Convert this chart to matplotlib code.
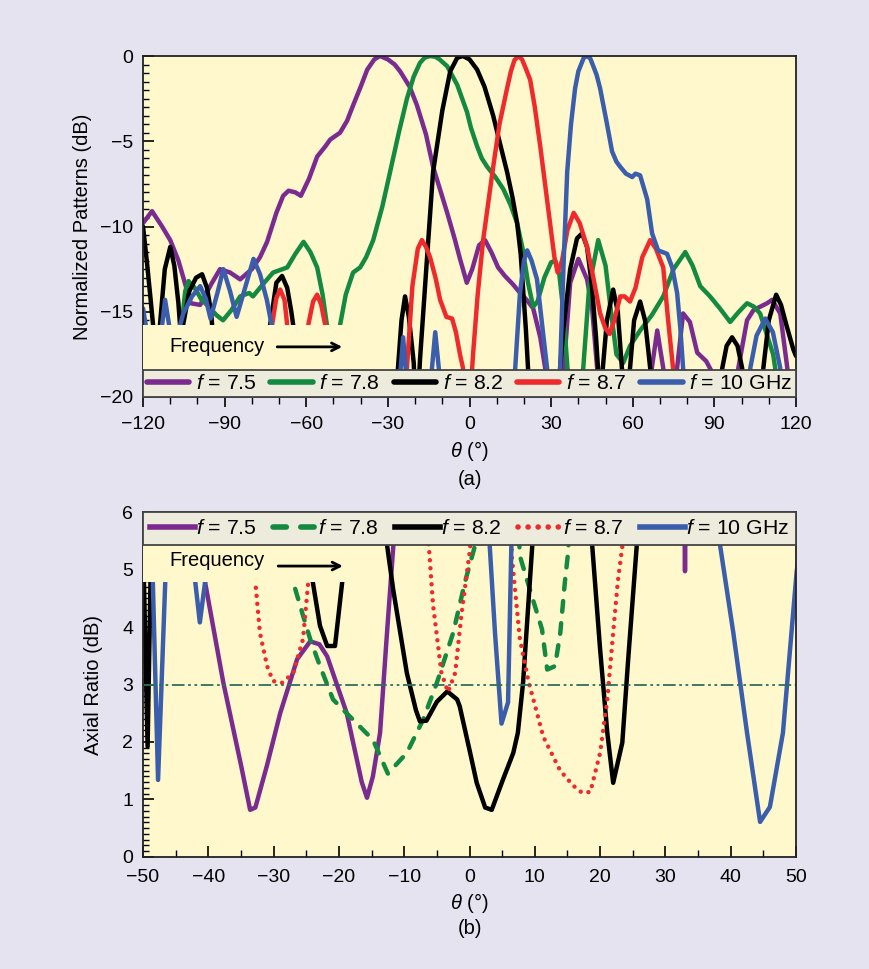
import matplotlib
matplotlib.use("Agg")
import matplotlib.pyplot as plt
from matplotlib.patches import Rectangle
from matplotlib.ticker import MultipleLocator

# ---------------- data: normalized patterns (dB) vs theta (deg) ----------------
pat75_theta = [-120, -116.7, -113, -110, -107, -105, -102.5, -99, -95, -91.7, -88, -84.3, -80, -77,
               -74.4, -71, -68.5, -66.5, -64, -62, -59, -56, -53, -51.2, -47.6, -45, -42.8, -40,
               -37.6, -35, -32.9, -30, -27.5, -25.5, -22, -19.3, -16, -13.4, -10.5, -8.2, -5.5,
               -3.5, -1, 1, 3.5, 5.7, 8, 10.5, 13, 16, 18.6, 21, 23.4, 26, 28.5, 31, 34, 35.5,
               37, 40, 43.2, 45, 46.9, 49, 65, 67, 69, 71.2, 73, 76.3, 78.5, 81, 83.7, 87, 89,
               91, 97, 98.8, 102, 104.4, 109.4, 111.2, 114.2, 116.8, 118.5, 120]
pat75_db = [-9.8, -9.1, -10.0, -10.8, -12.0, -13.1, -14.5, -14.6, -13.4, -12.5, -12.7, -13.1, -12.5,
            -11.8, -10.9, -9.2, -8.2, -7.9, -8.0, -8.2, -7.2, -5.9, -5.3, -4.9, -4.5, -3.8, -2.9,
            -1.8, -0.8, -0.2, 0.0, -0.2, -0.5, -0.9, -1.8, -2.9, -4.6, -6.5, -8.0, -9.2, -10.7,
            -11.9, -13.3, -12.5, -11.1, -10.8, -11.5, -12.4, -12.9, -13.4, -13.9, -14.3, -14.8,
            -16.5, -19.0, -22, -19.5, -16.5, -13.3, -11.9, -13.1, -14.7, -18.3, -22, -22, -18.3,
            -16.1, -18.3, -22, -18.3, -15.1, -15.6, -17.4, -17.9, -18.5, -22, -22, -18.3, -15.5,
            -14.9, -14.5, -14.3, -15.1, -18.3, -21, -22]

pat78_theta = [-109, -107, -105.7, -104.5, -103.3, -101, -98.5, -96.5, -93, -90.6, -87.5, -84.3, -81,
               -79.6, -76, -72.2, -67, -64, -61, -58.5, -56, -54, -52.4, -51, -49.5, -47.6, -45.5,
               -42.8, -40.2, -38, -35.4, -32, -29.2, -26, -23, -20.5, -18.2, -16.5, -14.5, -12.5,
               -11, -8.2, -4.5, -0.9, 0.5, 2.8, 4.5, 6.5, 9.5, 12.4, 15, 17.5, 19.5, 21.5, 23.4,
               25, 27.5, 30, 31.5, 33, 34.5, 36, 38.5, 41.8, 44, 47.3, 50, 52, 54, 56.5, 59, 62.7,
               67, 71.2, 75, 79.3, 82, 84.8, 88.4, 92, 95.8, 99, 102, 104.5, 106.8, 109, 111.6,
               113, 115]
pat78_db = [-22, -19, -15.6, -13.8, -13.2, -13.6, -14.3, -14.6, -15.2, -15.5, -14.9, -14.1, -13.9,
            -14.1, -13.4, -12.7, -12.4, -11.6, -10.9, -11.5, -12.4, -14.0, -15.8, -19, -19, -15.8,
            -14.0, -12.7, -12.4, -11.8, -10.8, -8.8, -6.8, -4.5, -2.5, -1.2, -0.4, -0.1, 0.0,
            -0.05, -0.2, -0.6, -1.7, -3.3, -4.2, -5.3, -6.0, -6.5, -7.1, -7.8, -8.7, -9.8, -11.3,
            -13.3, -14.7, -14.4, -13.0, -12.1, -12.0, -12.8, -15.0, -18.3, -22, -18.3, -13.5,
            -10.8, -12.3, -15.0, -17.5, -18.0, -17.0, -16.1, -15.2, -14.1, -12.5, -11.5, -12.3,
            -13.5, -14.1, -14.8, -15.6, -15.0, -14.5, -14.7, -15.1, -16.2, -17.5, -19, -22]

pat82_theta = [-120, -118.5, -117.2, -116.3, -115.5, -114.5, -113.8, -112, -110, -108.5, -107, -106.4,
               -105.9, -105.3, -103, -100.5, -98.3, -96.5, -95, -94.6, -94, -74, -73.3, -71, -68.9,
               -67, -65.5, -64.8, -64, -28, -26.3, -25, -23.7, -22.3, -20.5, -19.5, -18.2, -15.6,
               -13.4, -10, -7.1, -4.5, -2.4, 0, 2.8, 5.5, 8.7, 11, 13.8, 15.8, 17.5, 18.8, 19.7,
               20.7, 21.5, 22.5, 32, 33.3, 34.5, 37, 39.5, 41.4, 43.2, 45, 46.5, 47.3, 48.2, 49,
               50.5, 52.8, 54.5, 56, 57.5, 59, 60.5, 62.7, 64.5, 66.4, 67.5, 91.5, 92.9, 94.5,
               96.5, 98.5, 100.2, 101.5, 106.5, 108, 110, 112.7, 114.5, 116.5, 119, 120]
pat82_db = [-10, -12.2, -14.3, -15.8, -20, -20, -15.8, -12.5, -11.2, -12.3, -14.5, -15.8, -20, -15.8,
            -13.8, -13.0, -12.8, -13.6, -15.0, -15.8, -20, -20, -15.8, -13.3, -12.9, -13.6, -15.0,
            -15.8, -20, -22, -18.3, -15.5, -14.1, -15.3, -18.0, -22, -17.8, -11.8, -6.8, -3.2,
            -0.9, -0.1, 0.0, -0.2, -0.8, -1.8, -3.5, -5.0, -6.8, -8.3, -9.8, -11.6, -13.7, -16.0,
            -18.3, -22, -22, -18.3, -16.0, -12.5, -10.7, -10.4, -11.2, -13.5, -16.5, -18.5, -20,
            -18.3, -15.5, -13.7, -15.0, -18.3, -20, -18.3, -15.5, -14.4, -15.5, -18.3, -22, -22,
            -18.3, -17.0, -16.5, -17.0, -18.3, -22, -22, -18.3, -15.5, -14.0, -14.6, -15.8, -17.2,
            -17.6]

pat87_theta = [-75, -72.6, -71, -69.6, -68, -67, -65, -61, -59.3, -57.5, -56, -54.5, -53, -51, -25,
               -23, -21, -19, -17.5, -16, -14.5, -12.5, -10.8, -8.5, -6.4, -5, -3.5, -2.4, -1.2,
               0.3, 1.3, 3, 5, 8.7, 11, 13.8, 15.2, 16.5, 17.9, 19.3, 20.6, 22.3, 24, 26, 28, 29.6,
               31.2, 32.4, 34, 36, 38.3, 40.5, 43.2, 45.5, 48, 50, 51.5, 53, 55.4, 57, 59, 61,
               63.5, 66.4, 68.5, 71.2, 73, 74.8, 76]
pat87_db = [-22, -15.8, -14.2, -13.7, -14.3, -15.8, -22, -22, -15.8, -14.4, -14.0, -14.6, -15.8, -22,
            -22, -18.3, -13.5, -11.3, -10.8, -11.2, -11.8, -13.0, -14.3, -15.3, -15.4, -16.2,
            -17.5, -18.3, -22, -20, -17.5, -14.0, -10.8, -6.5, -4.0, -1.9, -0.9, -0.25, 0.0,
            -0.2, -0.7, -1.4, -3.0, -5.3, -7.8, -9.8, -11.8, -12.7, -12.0, -10.2, -9.2, -9.8,
            -11.2, -13.0, -15.1, -16.0, -16.3, -15.6, -14.1, -14.1, -14.4, -13.6, -11.8, -10.8,
            -11.3, -12.4, -15.5, -18.3, -22]

pat10_theta = [-120, -119, -118, -114, -113, -111.9, -110.4, -109.5, -108, -106.4, -105.2, -102,
               -99, -97, -95.2, -92.5, -90.5, -88, -85.6, -82.5, -79.4, -77, -74.5, -72.7, -71.5,
               -27, -25.3, -24.4, -23.5, -22, -14.5, -13.8, -12.6, -11.3, -10.5, 15.5, 16.8, 18.5,
               20, 21.2, 22.8, 24.8, 26.5, 28.5, 29.5, 32.5, 33.3, 34.5, 35.9, 37.3, 38.8, 40, 42,
               43.2, 44.4, 45.5, 46.7, 48, 50.3, 52.4, 54, 55.4, 57.5, 59.8, 61, 62.7, 65.3, 67.1,
               69.3, 72.6, 74.5, 76.3, 77.5, 78.5, 79.5, 102, 103.2, 105.5, 108.7, 111.5, 114.2,
               115.5]
pat10_db = [-14.8, -15.8, -22, -22, -15.8, -14.3, -15.8, -22, -22, -15.8, -15.1, -14.1, -13.5,
            -14.2, -15.4, -13.8, -12.5, -13.8, -15.3, -13.6, -11.9, -12.8, -14.3, -15.8, -22, -22,
            -18.3, -16.5, -18.3, -22, -22, -18.3, -16.2, -18.3, -22, -22, -18.3, -14.0, -12.0,
            -11.4, -12.0, -13.1, -15.5, -18.3, -22, -22, -18.3, -12.5, -6.8, -4.0, -1.9, -0.9,
            -0.1, 0.0, -0.15, -0.6, -1.1, -1.9, -3.8, -5.6, -6.2, -6.5, -6.9, -7.1, -6.9, -7.0,
            -8.4, -10.4, -11.4, -11.6, -12.4, -13.9, -16.0, -18.3, -22, -22, -18.3, -16.4, -15.4,
            -16.2, -18.3, -22]

# ---------------- data: axial ratio (dB) vs theta (deg) ----------------
ar75_theta = [-43.5, -40.5, -37.7, -35.0, -33.6, -32.8, -31.0, -29.0, -26.4, -24.4, -23.0, -21.8,
              -18.8, -16.5, -15.7, -14.8, -13.7, -12.7, -11.7, -11.0, 32.8, 33.0, 33.2]
ar75_db = [6.8, 4.78, 3.03, 1.6, 0.82, 0.86, 1.6, 2.5, 3.44, 3.75, 3.7, 3.49, 2.5, 1.3, 1.03, 1.4,
           2.16, 3.8, 5.36, 6.6, 7.0, 4.97, 7.0]

ar78_theta = [-28.0, -27.0, -25.5, -24.4, -22.9, -20.9, -18.3, -14.8, -12.5, -9.6, -7.1, -5.0, -2.5,
              -0.7, 0.8, 1.5, 7.2, 7.7, 9.7, 11.1, 11.9, 13.1, 13.9, 14.6, 15.1, 15.6]
ar78_db = [6.2, 4.78, 4.2, 3.79, 3.32, 2.74, 2.44, 2.04, 1.45, 1.81, 2.39, 3.03, 3.9, 4.78, 5.4, 6.6,
           6.6, 5.24, 4.48, 3.96, 3.26, 3.32, 3.9, 4.78, 5.3, 6.6]

ar82_theta = [-50.2, -49.3, -48.6, -48.0, -24.8, -24.0, -22.9, -21.8, -20.6, -19.5, -18.8, -13.2,
              -12.6, -11.7, -9.6, -8.2, -7.6, -6.6, -5.0, -3.4, -1.9, -1.5, 0.1, 1.1, 2.4, 3.4,
              5.1, 6.7, 7.4, 8.2, 9.6, 10.0, 18.3, 18.8, 20.0, 21.1, 22.0, 23.4, 24.3, 25.6, 26.0]
ar82_db = [6.5, 1.92, 6.5, 7.0, 7.0, 4.78, 4.02, 3.67, 3.67, 4.78, 7.0, 7.0, 5.4, 4.66, 3.2, 2.55,
           2.36, 2.37, 2.7, 2.88, 2.74, 2.62, 1.81, 1.29, 0.86, 0.82, 1.34, 1.81, 2.16, 3.03, 5.4,
           6.6, 6.6, 5.4, 3.61, 2.16, 1.29, 1.99, 3.44, 5.4, 6.6]

ar87_theta = [-33.3, -32.8, -32.1, -31.0, -30.1, -28.7, -27.0, -25.5, -24.7, -24.2, -6.9, -6.2,
              -5.6, -4.3, -3.3, -2.2, -1.2, 0.1, 0.5, 6.0, 6.5, 7.7, 9.0, 11.3, 13.9, 15.9, 17.2,
              18.5, 20.0, 21.1, 22.0, 22.7, 23.4, 23.8]
ar87_db = [6.5, 4.78, 3.9, 3.32, 3.06, 3.03, 3.2, 3.79, 4.78, 6.5, 6.6, 5.37, 4.4, 3.2, 2.87, 3.2,
           4.25, 5.37, 6.6, 6.6, 5.2, 3.8, 3.07, 2.09, 1.5, 1.24, 1.12, 1.13, 1.81, 2.74, 3.9,
           4.78, 5.4, 6.6]

ar10_theta = [-48.8, -48.5, -47.7, -46.6, -46.3, -42.4, -42.0, -41.3, -40.5, -40.1, 2.8, 3.1, 3.9,
              4.9, 5.9, 6.4, 6.8, 38.0, 38.4, 40.4, 42.5, 44.5, 46.0, 48.0, 50.1, 50.5]
ar10_db = [6.5, 4.78, 1.34, 4.78, 6.5, 6.5, 4.78, 4.08, 4.78, 6.5, 6.6, 5.4, 3.9, 2.32, 2.69, 5.37,
           6.6, 6.6, 5.4, 3.9, 2.16, 0.61, 0.87, 2.16, 4.96, 5.3]

ar_limit = 3.0

freq_labels = [r"$f$ = 7.5", r"$f$ = 7.8", r"$f$ = 8.2", r"$f$ = 8.7", r"$f$ = 10 GHz"]

# ---------------- style ----------------
FIG_BG = "#E6E3F1"
AX_BG = "#FFF8CC"
LEG_BG = "#EDEBDC"
PURPLE = "#7A2B8F"
GREEN = "#138A3F"
BLACK = "#000000"
RED = "#EE2A2D"
BLUE = "#3A5DAC"

plt.rcParams["font.family"] = ["Liberation Sans", "DejaVu Sans"]
plt.rcParams["mathtext.fontset"] = "custom"
plt.rcParams["mathtext.rm"] = "Liberation Sans"
plt.rcParams["mathtext.it"] = "Liberation Sans:italic"

LW = 3.2
FS_TICK = 14
FS_LABEL = 14.5
FS_LEG = 15.3
FS_NOTE = 14.5

fig = plt.figure(figsize=(8.69, 9.69), dpi=100, facecolor=FIG_BG)
ax1 = fig.add_axes([0.1646, 0.5903, 0.7514, 0.3519], facecolor=AX_BG)
ax2 = fig.add_axes([0.1646, 0.1156, 0.7514, 0.3560], facecolor=AX_BG)

for ax in (ax1, ax2):
    for sp in ax.spines.values():
        sp.set_linewidth(1.3)
        sp.set_color("#222222")

# ---------------- (a) normalized patterns ----------------
pattern_sets = [(pat75_theta, pat75_db, PURPLE), (pat78_theta, pat78_db, GREEN),
                (pat82_theta, pat82_db, BLACK), (pat87_theta, pat87_db, RED),
                (pat10_theta, pat10_db, BLUE)]
h1 = []
for th, db, col in pattern_sets:
    ln, = ax1.plot(th, db, color=col, lw=LW, solid_joinstyle="round", solid_capstyle="round",
                   zorder=2)
    h1.append(ln)

ax1.set_xlim(-120, 120)
ax1.set_ylim(-20, 0)
ax1.xaxis.set_major_locator(MultipleLocator(30))
ax1.xaxis.set_minor_locator(MultipleLocator(10))
ax1.yaxis.set_major_locator(MultipleLocator(5))
ax1.yaxis.set_minor_locator(MultipleLocator(0.5))
ax1.tick_params(axis="y", which="major", direction="in", length=8, width=1.2, labelsize=FS_TICK, pad=7)
ax1.tick_params(axis="y", which="minor", direction="in", length=4.5, width=1.0)
ax1.tick_params(axis="x", which="major", direction="out", length=7, width=1.2, labelsize=FS_TICK, pad=7)
ax1.tick_params(axis="x", which="minor", direction="out", length=5, width=1.0)
ax1.set_ylabel("Normalized Patterns (dB)", fontsize=FS_LABEL, labelpad=6)
ax1.set_xlabel(r"$\theta$ (°)", fontsize=FS_LABEL, labelpad=4)

ax1.add_patch(Rectangle((-120, -18.8), 76, 3.04, facecolor=AX_BG, edgecolor="none", zorder=3))
ax1.text(-110.4, -17.06, "Frequency", fontsize=FS_NOTE, va="center", ha="left", zorder=4)
ax1.annotate("", xy=(-46.8, -17.06), xytext=(-70.7, -17.06),
             arrowprops=dict(arrowstyle="->,head_length=0.55,head_width=0.28", lw=2.0,
                             color="black", shrinkA=0, shrinkB=0), zorder=4)

leg1 = ax1.legend(h1, freq_labels, loc="lower left", bbox_to_anchor=(0, 0, 1, 0.2), mode="expand",
                  ncol=5, fontsize=FS_LEG, frameon=True, fancybox=False, framealpha=1,
                  facecolor=LEG_BG, edgecolor="#444444", borderaxespad=0, handlelength=2.0,
                  handletextpad=0.3, borderpad=0.18, columnspacing=0.3)
leg1.get_frame().set_linewidth(1.3)
leg1.set_zorder(5)
for hl in leg1.get_lines():
    hl.set_linewidth(4.0)

fig.text(0.5408, 1 - 480 / 969, "(a)", fontsize=FS_LABEL, ha="center", va="center")

# ---------------- (b) axial ratio ----------------
h2 = []
ln, = ax2.plot(ar75_theta, ar75_db, color=PURPLE, lw=LW, solid_joinstyle="round", zorder=2)
h2.append(ln)
ln, = ax2.plot(ar78_theta, ar78_db, color=GREEN, lw=LW, linestyle=(0, (2.4, 2.6)),
               dash_capstyle="round", zorder=2)
h2.append(ln)
ln, = ax2.plot(ar82_theta, ar82_db, color=BLACK, lw=LW, solid_joinstyle="round", zorder=2)
h2.append(ln)
ln, = ax2.plot(ar87_theta, ar87_db, color=RED, lw=LW, linestyle=(0, (0.01, 1.8)),
               dash_capstyle="round", zorder=2)
h2.append(ln)
ln, = ax2.plot(ar10_theta, ar10_db, color=BLUE, lw=LW, solid_joinstyle="round", zorder=2)
h2.append(ln)

ax2.axhline(ar_limit, color="#2E6F5E", lw=1.3, linestyle=(0, (7, 2, 1.5, 2, 1.5, 2)), zorder=2.5)

ax2.set_xlim(-50, 50)
ax2.set_ylim(0, 6)
ax2.xaxis.set_major_locator(MultipleLocator(10))
ax2.xaxis.set_minor_locator(MultipleLocator(5))
ax2.yaxis.set_major_locator(MultipleLocator(1))
ax2.yaxis.set_minor_locator(MultipleLocator(0.1))
ax2.tick_params(axis="y", which="major", direction="in", length=8, width=1.2, labelsize=FS_TICK, pad=7)
ax2.tick_params(axis="y", which="minor", direction="in", length=4.5, width=1.0)
ax2.tick_params(axis="x", which="major", direction="in", length=8, width=1.2, labelsize=FS_TICK, pad=9)
ax2.tick_params(axis="x", which="minor", direction="in", length=5, width=1.0)
ax2.set_ylabel("Axial Ratio (dB)", fontsize=FS_LABEL, labelpad=14)
ax2.set_xlabel(r"$\theta$ (°)", fontsize=FS_LABEL, labelpad=3)

ax2.add_patch(Rectangle((-50, 4.78), 31.7, 0.9, facecolor=AX_BG, edgecolor="none", zorder=3))
ax2.text(-46.0, 5.15, "Frequency", fontsize=FS_NOTE, va="center", ha="left", zorder=4)
ax2.annotate("", xy=(-19.4, 5.06), xytext=(-29.3, 5.06),
             arrowprops=dict(arrowstyle="->,head_length=0.55,head_width=0.28", lw=2.0,
                             color="black", shrinkA=0, shrinkB=0), zorder=4)

leg2 = ax2.legend(h2, freq_labels, loc="upper left", bbox_to_anchor=(0, 0, 1, 1), mode="expand",
                  ncol=5, fontsize=FS_LEG, frameon=True, fancybox=False, framealpha=1,
                  facecolor=LEG_BG, edgecolor="#444444", borderaxespad=0, handlelength=2.1,
                  handletextpad=0.05, borderpad=0.34, columnspacing=0.3)
leg2.get_frame().set_linewidth(1.3)
leg2.set_zorder(5)
for hl in leg2.get_lines():
    hl.set_linewidth(4.0)

fig.text(0.5408, 1 - 929 / 969, "(b)", fontsize=FS_LABEL, ha="center", va="center")

fig.savefig("out.png", dpi=100, facecolor=FIG_BG)
